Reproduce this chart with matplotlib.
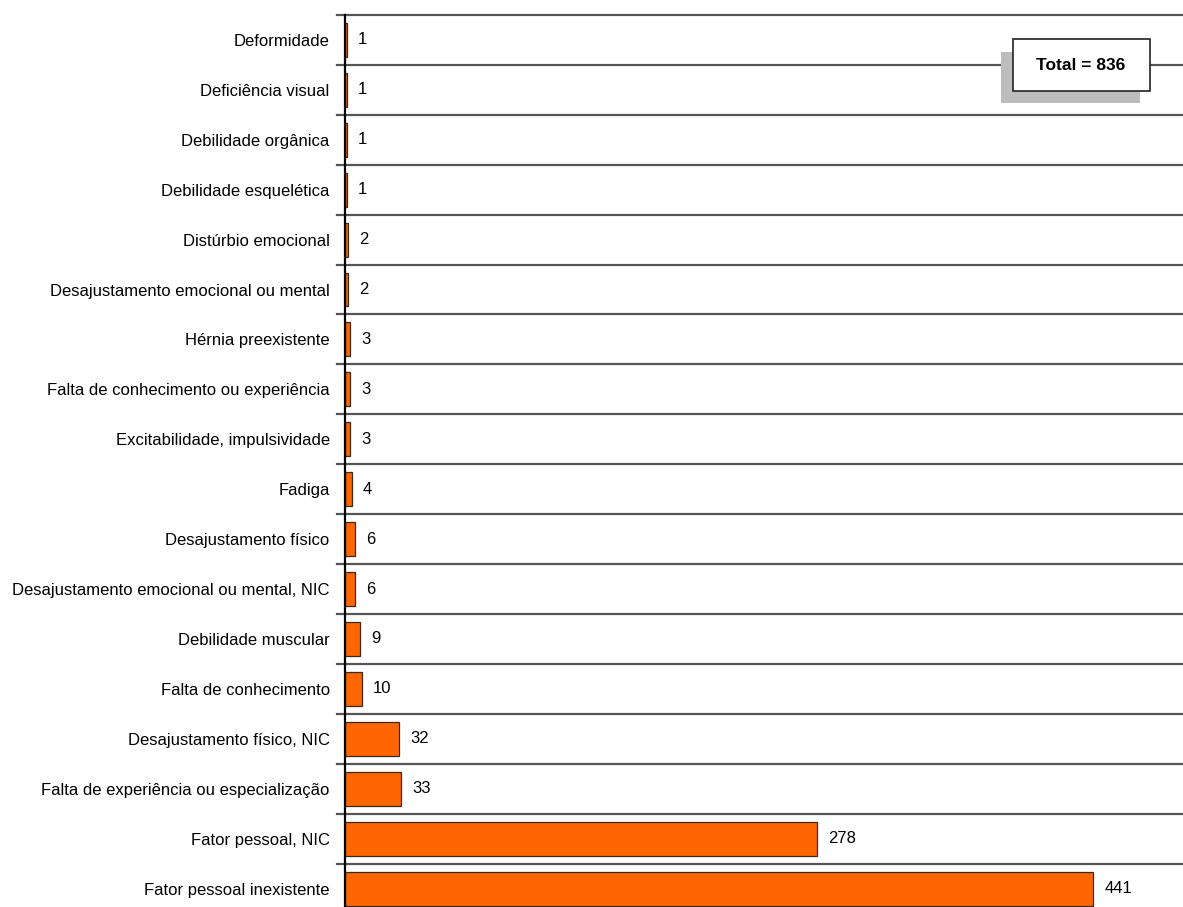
import matplotlib.pyplot as plt
from matplotlib.patches import Rectangle

# Dados (de cima para baixo)
categorias = [
    "Deformidade", "Deficiência visual", "Debilidade orgânica",
    "Debilidade esquelética", "Distúrbio emocional",
    "Desajustamento emocional ou mental", "Hérnia preexistente",
    "Falta de conhecimento ou experiência", "Excitabilidade, impulsividade",
    "Fadiga", "Desajustamento físico", "Desajustamento emocional ou mental, NIC",
    "Debilidade muscular", "Falta de conhecimento", "Desajustamento físico, NIC",
    "Falta de experiência ou especialização", "Fator pessoal, NIC",
    "Fator pessoal inexistente",
]
valores = [1, 1, 1, 1, 2, 2, 3, 3, 3, 4, 6, 6, 9, 10, 32, 33, 278, 441]
total_texto = "Total = 836"

plt.rcParams['font.family'] = ['Liberation Sans Narrow', 'Liberation Sans', 'DejaVu Sans']

fig = plt.figure(figsize=(11.83, 9.07), dpi=100)
ax = fig.add_axes([345 / 1183, 0.0, 1 - 345 / 1183, 1.0])

pos = list(range(len(categorias)))
ax.barh(pos, valores, height=0.68, color="#FF6600", edgecolor="#3a2a1a", linewidth=0.9, zorder=3)

for y, v in zip(pos, valores):
    ax.annotate(str(v), (v, y), xytext=(8, 0), textcoords="offset points",
                va="center", ha="left", fontsize=12)

# linhas horizontais entre categorias
for i in range(len(categorias)):
    ax.axhline(i - 0.5, xmin=-0.009, xmax=1, color="#555555", lw=1.6, clip_on=False, zorder=1)

ax.set_xlim(0, 494)
ax.set_ylim(17.37, -0.80)
ax.set_yticks(pos)
ax.set_yticklabels(categorias, fontsize=12)
ax.tick_params(axis="y", length=0, pad=11)
ax.set_xticks([])
for s in ["top", "right", "bottom"]:
    ax.spines[s].set_visible(False)
ax.spines["left"].set_linewidth(1.6)
ax.spines["left"].set_bounds(-0.5, 17.37)
ax.spines["left"].set_zorder(4)

# caixa do total com sombra
fig.patches.append(Rectangle((1001 / 1183, 1 - 103 / 907), 139 / 1183, 51 / 907,
                             transform=fig.transFigure, facecolor="#bdbdbd",
                             edgecolor="none", zorder=5))
fig.patches.append(Rectangle((1013 / 1183, 1 - 91 / 907), 137 / 1183, 52 / 907,
                             transform=fig.transFigure, facecolor="white",
                             edgecolor="#222222", lw=1.2, zorder=6))
fig.text(1081 / 1183, 1 - 65 / 907, total_texto, ha="center", va="center",
         fontsize=12.5, fontweight="bold", zorder=7)

fig.savefig("out.png", dpi=100)
